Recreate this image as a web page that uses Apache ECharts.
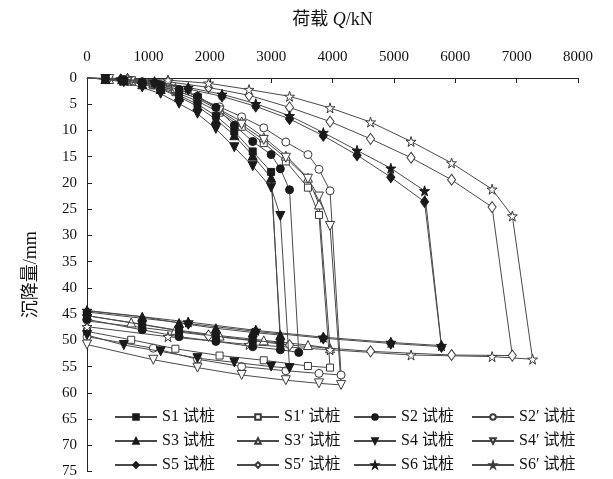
<!DOCTYPE html>
<html>
<head>
<meta charset="utf-8">
<script src="https://cdn.jsdelivr.net/npm/echarts@6/dist/echarts.min.js"></script>
<style>
  html, body { margin: 0; padding: 0; background: #fff; }
  #chart { width: 613px; height: 479px; }
</style>
</head>
<body>
<div id="chart"></div>
<script>
// Load–settlement curves (Q–s) of the test piles: loading, plunge, unloading.
const xTicks = [0, 1000, 2000, 3000, 4000, 5000, 6000, 7000, 8000];
const yTicks = [0, 5, 10, 15, 20, 25, 30, 35, 40, 45, 50, 55, 60, 65, 70, 75];

const loadS1 = [0, 300, 600, 900, 1200, 1500, 1800, 2100, 2400, 2700, 3000, 3150, 2700, 2100, 1500, 900, 0];
const settleS1 = [0, 0.2, 0.5, 1.1, 2.0, 3.3, 5.0, 7.2, 10.2, 14.0, 17.9, 50.5, 50.0, 49.2, 48.2, 47.0, 45.3];

const loadS1p = [0, 360, 720, 1080, 1440, 1800, 2160, 2520, 2880, 3240, 3600, 3780, 3960, 3600, 2880, 2160, 1440, 720, 0];
const settleS1p = [0, 0.2, 0.6, 1.4, 2.7, 4.4, 6.6, 9.3, 12.4, 15.9, 20.9, 26.1, 55.2, 54.9, 53.8, 52.9, 51.6, 49.9, 48.3];

const loadS2 = [0, 300, 600, 900, 1200, 1500, 1800, 2100, 2400, 2700, 3000, 3150, 3300, 3450, 3150, 2700, 2100, 1500, 900, 0];
const settleS2 = [0, 0.1, 0.3, 0.7, 1.3, 2.2, 3.5, 5.6, 9.0, 12.1, 14.6, 17.3, 21.3, 52.3, 51.8, 51.2, 50.2, 49.3, 48.0, 46.0];

const loadS2p = [0, 360, 720, 1080, 1440, 1800, 2160, 2520, 2880, 3240, 3600, 3780, 3960, 4140, 3780, 3240, 2520, 1800, 1080, 0];
const settleS2p = [0, 0.2, 0.6, 1.3, 2.4, 3.8, 5.5, 7.4, 9.5, 12.2, 14.6, 17.4, 21.5, 56.6, 56.3, 55.8, 55.0, 53.6, 51.5, 49.3];

const loadS3 = [0, 300, 600, 900, 1200, 1500, 1800, 2100, 2400, 2700, 3000, 3150, 2700, 2100, 1500, 900, 0];
const settleS3 = [0, 0.2, 0.5, 1.2, 2.1, 3.6, 5.4, 7.9, 10.9, 14.8, 19.0, 49.0, 48.5, 47.7, 46.7, 45.5, 44.4];

const loadS3p = [0, 360, 720, 1080, 1440, 1800, 2160, 2520, 2880, 3240, 3600, 3780, 3960, 3600, 2880, 2160, 1440, 720, 0];
const settleS3p = [0, 0.2, 0.5, 1.0, 1.9, 3.4, 6.0, 8.3, 11.3, 14.8, 19.0, 24.1, 51.5, 50.9, 50.0, 49.1, 48.0, 46.6, 45.3];

const loadS4 = [0, 300, 600, 900, 1200, 1500, 1800, 2100, 2400, 2700, 3000, 3150, 3300, 3000, 2400, 1800, 1200, 600, 0];
const settleS4 = [0, 0.2, 0.8, 1.8, 3.0, 4.9, 6.8, 9.7, 13.2, 16.8, 20.9, 26.3, 55.3, 55.0, 54.2, 53.4, 52.1, 50.9, 49.0];

const loadS4p = [0, 360, 720, 1080, 1440, 1800, 2160, 2520, 2880, 3240, 3600, 3780, 3960, 4140, 3780, 3240, 2520, 1800, 1080, 0];
const settleS4p = [0, 0.2, 0.6, 1.2, 2.3, 3.9, 6.2, 8.9, 11.8, 15.2, 19.2, 22.6, 28.2, 58.5, 58.2, 57.6, 56.6, 55.2, 53.7, 50.8];

const loadS5 = [0, 550, 1100, 1650, 2200, 2750, 3300, 3850, 4400, 4950, 5500, 5775, 4950, 3850, 2750, 1650, 0];
const settleS5 = [0, 0.3, 0.9, 2.1, 3.5, 5.4, 7.8, 11.0, 14.7, 18.9, 23.6, 51.2, 50.6, 49.6, 48.3, 46.8, 44.6];

const loadS5p = [0, 660, 1320, 1980, 2640, 3300, 3960, 4620, 5280, 5940, 6600, 6930, 5940, 4620, 3300, 1980, 0];
const settleS5p = [0, 0.2, 0.7, 1.8, 3.3, 5.6, 8.3, 11.6, 15.2, 19.4, 24.6, 52.9, 52.8, 52.1, 50.9, 49.1, 46.3];

const loadS6 = [0, 550, 1100, 1650, 2200, 2750, 3300, 3850, 4400, 4950, 5500, 5775, 4950, 3850, 2750, 1650, 0];
const settleS6 = [0, 0.2, 0.7, 1.8, 3.1, 4.9, 7.2, 10.4, 13.8, 17.2, 21.5, 51.0, 50.4, 49.4, 48.1, 46.5, 44.3];

const loadS6p = [0, 660, 1320, 1980, 2640, 3300, 3960, 4620, 5280, 5940, 6600, 6930, 7260, 6600, 5280, 3960, 2640, 1320, 0];
const settleS6p = [0, 0.1, 0.4, 1.0, 2.2, 3.5, 5.7, 8.4, 12.1, 16.2, 21.2, 26.3, 53.6, 53.1, 52.8, 51.8, 50.8, 49.3, 47.4];

const STAR = 'path://M50,0 L61,35 L98,35 L68,57 L79,91 L50,70 L21,91 L32,57 L2,35 L39,35 Z';
const TRI_DOWN = 'path://M0,0 L10,0 L5,9 Z';
const SERIF = '"Liberation Serif", "Times New Roman", "Noto Sans CJK SC", serif';

// name, loads, settlements, marker, marker size, filled?
const pileDefs = [
  ['S1 试桩', loadS1, settleS1, 'rect', 7, true],
  ['S1′ 试桩', loadS1p, settleS1p, 'rect', 7, false],
  ['S2 试桩', loadS2, settleS2, 'circle', 8, true],
  ['S2′ 试桩', loadS2p, settleS2p, 'circle', 8, false],
  ['S3 试桩', loadS3, settleS3, 'triangle', 9, true],
  ['S3′ 试桩', loadS3p, settleS3p, 'triangle', 9, false],
  ['S4 试桩', loadS4, settleS4, TRI_DOWN, 9, true],
  ['S4′ 试桩', loadS4p, settleS4p, TRI_DOWN, 9, false],
  ['S5 试桩', loadS5, settleS5, 'diamond', [8, 11], true],
  ['S5′ 试桩', loadS5p, settleS5p, 'diamond', [8, 11], false],
  ['S6 试桩', loadS6, settleS6, STAR, 10, true],
  ['S6′ 试桩', loadS6p, settleS6p, STAR, 10, false]
];

const series = pileDefs.map(([name, q, s, symbol, size, filled]) => ({
  name,
  type: 'line',
  symbol,
  symbolSize: size,
  showAllSymbol: true,
  data: q.map((v, i) => (i === 0 ? { value: [v, s[i]], symbol: 'none' } : [v, s[i]])),
  lineStyle: { color: '#4a4a4a', width: 1 },
  itemStyle: filled
    ? { color: '#1a1a1a', borderColor: '#1a1a1a', borderWidth: 1 }
    : { color: '#ffffff', borderColor: '#3a3a3a', borderWidth: 1 },
  z: filled ? 3 : 2
}));

const legendCommon = {
  orient: 'vertical',
  top: 408,
  padding: 0,
  itemWidth: 42,
  itemHeight: 7,
  itemGap: 6,
  textStyle: { fontFamily: SERIF, fontSize: 16, lineHeight: 18, color: '#111' },
  selectedMode: false
};

const chart = echarts.init(document.getElementById('chart'), null, { renderer: 'canvas' });
chart.setOption({
  animation: false,
  backgroundColor: '#fff',
  grid: { left: 87, right: 35, top: 78, bottom: 5, containLabel: false },
  legend: [
    Object.assign({ left: 114, data: ['S1 试桩', 'S3 试桩', 'S5 试桩'] }, legendCommon),
    Object.assign({ left: 236, data: ['S1′ 试桩', 'S3′ 试桩', 'S5′ 试桩'] }, legendCommon),
    Object.assign({ left: 353, data: ['S2 试桩', 'S4 试桩', 'S6 试桩'] }, legendCommon),
    Object.assign({ left: 471, data: ['S2′ 试桩', 'S4′ 试桩', 'S6′ 试桩'] }, legendCommon)
  ],
  xAxis: {
    type: 'value',
    position: 'top',
    min: xTicks[0],
    max: xTicks[xTicks.length - 1],
    interval: xTicks[1] - xTicks[0],
    name: '荷载 {i|Q}/kN',
    nameLocation: 'middle',
    nameGap: 49,
    nameTextStyle: {
      fontFamily: SERIF, fontSize: 18, color: '#111',
      rich: { i: { fontFamily: SERIF, fontSize: 18, fontStyle: 'italic', color: '#111' } }
    },
    axisLine: { show: true, lineStyle: { color: '#222', width: 1 } },
    axisTick: { show: true, inside: true, length: 5, lineStyle: { color: '#222' } },
    axisLabel: { fontFamily: SERIF, fontSize: 15, color: '#111', margin: 13, formatter: v => String(v) },
    splitLine: { show: false }
  },
  yAxis: {
    type: 'value',
    inverse: true,
    min: yTicks[0],
    max: yTicks[yTicks.length - 1],
    interval: yTicks[1] - yTicks[0],
    name: '沉降量/mm',
    nameLocation: 'middle',
    nameGap: 47,
    nameTextStyle: { fontFamily: SERIF, fontSize: 18, color: '#111' },
    axisLine: { show: true, lineStyle: { color: '#222', width: 1 } },
    axisTick: { show: true, inside: true, length: 5, lineStyle: { color: '#222' } },
    axisLabel: { fontFamily: SERIF, fontSize: 15, color: '#111', margin: 10, formatter: v => String(v) },
    splitLine: { show: false }
  },
  series
});
</script>
</body>
</html>
